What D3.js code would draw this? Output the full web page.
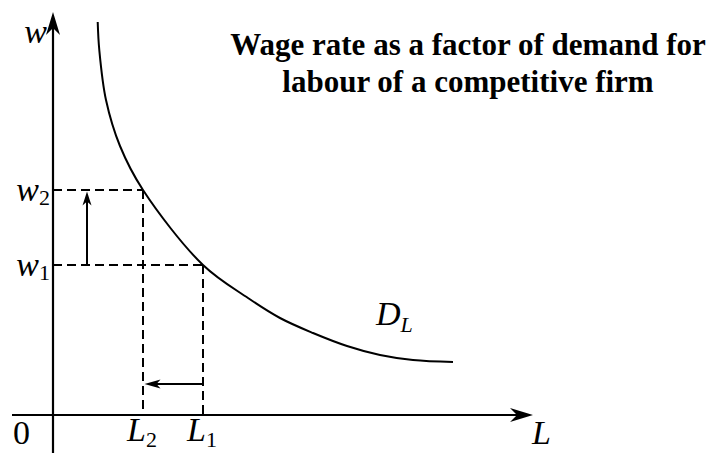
<!DOCTYPE html>
<html>
<head>
<meta charset="utf-8">
<script src="https://cdn.jsdelivr.net/npm/d3@7/dist/d3.min.js"></script>
<style>
  html, body { margin: 0; padding: 0; background: #fff; }
  svg { display: block; }
  text, tspan { font-family: "Liberation Serif", "Times New Roman", Times, "DejaVu Serif", serif; }
  .lbl { font-style: italic; fill: #000; }
  .num { font-style: normal; fill: #000; }
  .title { font-weight: bold; fill: #000; }
</style>
</head>
<body>
<script>
// Demand curve for labour D_L: quantity of labour (L) against wage rate (w)
const demandL = [4.47, 4.63, 5.3, 6.7, 9, 15, 19.5, 22.7, 26, 29.4, 32.7, 36, 40];
const demandW = [39.3, 36.5, 31.5, 26.9, 22.5, 15, 11.7, 9.7, 8.2, 6.9, 6.0, 5.5, 5.3];

// Wage levels w1 < w2 and the matching labour demanded L1 > L2
const wageLevels = [15, 22.5];
const wageNames = ["1", "2"];
const labourLevels = [15, 9];
const labourNames = ["1", "2"];

const titleLines = ["Wage rate as a factor of demand for", "labour of a competitive firm"];

const W = 715, H = 453;
const svg = d3.select("body").append("svg").attr("width", W).attr("height", H);

const x = d3.scaleLinear().domain([0, 48]).range([53, 533]);
const y = d3.scaleLinear().domain([0, 40]).range([415, 15]);

// Arrowhead with a concave back, pointing in direction (dx, dy)
function arrowHead(tx, ty, dx, dy, len, half, notch) {
  const px = -dy, py = dx;
  const bx = tx - dx * len, by = ty - dy * len;
  const nx = tx - dx * (len - notch), ny = ty - dy * (len - notch);
  svg.append("path")
    .attr("d", `M${tx},${ty} L${bx + px * half},${by + py * half} L${nx},${ny} L${bx - px * half},${by - py * half} Z`)
    .attr("fill", "#000");
}

// Axes
const axisStroke = 2.2;
svg.append("line")
  .attr("x1", x(-4.1)).attr("x2", x(47)).attr("y1", y(0)).attr("y2", y(0))
  .attr("stroke", "#000").attr("stroke-width", axisStroke);
arrowHead(x(48), y(0), 1, 0, 23, 7, 7);

svg.append("line")
  .attr("x1", x(0)).attr("x2", x(0)).attr("y1", y(-3.9)).attr("y2", y(39))
  .attr("stroke", "#000").attr("stroke-width", axisStroke);
arrowHead(x(0), y(40.3), 0, -1, 23, 7, 7);

// Dashed guides from each wage level to the curve and down to the L axis
const dash = "9,5";
wageLevels.forEach((w, i) => {
  const L = labourLevels[i];
  svg.append("line")
    .attr("x1", x(0)).attr("x2", x(L)).attr("y1", y(w)).attr("y2", y(w))
    .attr("stroke", "#000").attr("stroke-width", 2).attr("stroke-dasharray", dash);
  svg.append("line")
    .attr("x1", x(L)).attr("x2", x(L)).attr("y1", y(w)).attr("y2", y(0))
    .attr("stroke", "#000").attr("stroke-width", 2).attr("stroke-dasharray", dash);
});

// Demand curve
const curvePts = demandL.map((L, i) => [x(L), y(demandW[i])]);
svg.append("path")
  .attr("d", d3.line().curve(d3.curveCatmullRom.alpha(0.5))(curvePts))
  .attr("fill", "none").attr("stroke", "#000").attr("stroke-width", 2);

// Wage rise arrow: w1 -> w2
const ax = x(3.4);
svg.append("line")
  .attr("x1", ax).attr("x2", ax).attr("y1", y(wageLevels[0])).attr("y2", y(wageLevels[1]) + 10)
  .attr("stroke", "#000").attr("stroke-width", 2);
arrowHead(ax, y(wageLevels[1]) + 1.5, 0, -1, 14, 4.5, 4);

// Labour fall arrow: L1 -> L2
const ay = y(3.1);
svg.append("line")
  .attr("x1", x(labourLevels[0])).attr("x2", x(labourLevels[1]) + 10).attr("y1", ay).attr("y2", ay)
  .attr("stroke", "#000").attr("stroke-width", 2);
arrowHead(x(labourLevels[1]) + 1.5, ay, -1, 0, 16, 4.5, 4);

// Labels
const big = 34, sub = 22;
function subLabel(xPos, yBase, main, s, anchor, subDy) {
  const t = svg.append("text").attr("class", "lbl")
    .attr("x", xPos).attr("y", yBase).attr("text-anchor", anchor).attr("font-size", big);
  t.append("tspan").text(main);
  t.append("tspan").attr("class", "num")
    .attr("font-size", sub).attr("dy", subDy).text(s);
  return t;
}

svg.append("text").attr("class", "lbl").attr("x", 47).attr("y", 43)
  .attr("text-anchor", "end").attr("font-size", big).text("w");

wageLevels.forEach((w, i) => {
  subLabel(50, y(w) + 11, "w", wageNames[i], "end", 4);
});
labourLevels.forEach((L, i) => {
  subLabel(x(L) - 16, 441, "L", labourNames[i], "start", 6);
});

svg.append("text").attr("class", "num").attr("x", 13).attr("y", 444)
  .attr("font-size", big).text("0");
svg.append("text").attr("class", "lbl").attr("x", 532).attr("y", 444)
  .attr("font-size", big).text("L");

const dl = svg.append("text").attr("class", "lbl").attr("x", 376).attr("y", 325).attr("font-size", big);
dl.append("tspan").text("D");
dl.append("tspan").attr("font-size", sub).attr("dy", 7).text("L");

// Title
titleLines.forEach((line, i) => {
  svg.append("text").attr("class", "title")
    .attr("x", 468).attr("y", 55 + i * 37)
    .attr("text-anchor", "middle").attr("font-size", 31).text(line);
});
</script>
</body>
</html>
